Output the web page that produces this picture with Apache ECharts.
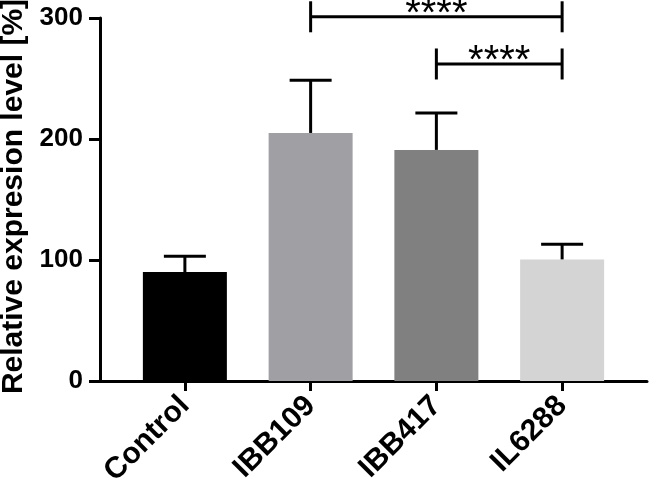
<!DOCTYPE html>
<html><head><meta charset="utf-8">
<script src="https://cdn.jsdelivr.net/npm/echarts@6/dist/echarts.min.js"></script>
<style>html,body{margin:0;padding:0;background:#fff}#c{width:650px;height:481px}</style>
</head><body><div id="c"></div>
<script>
const categories = ['Control', 'IBB109', 'IBB417', 'IL6288'];
const means = [90, 205, 191, 100.5];
const errors = [13, 43.5, 30.5, 12.5];
const barColors = ['#000000', '#a0a0a4', '#808080', '#d4d4d4'];
const yTicks = [0, 100, 200, 300];
const sigPairs = [[1, 3, 301], [2, 3, 262]];
const sigLabels = ['****', '****'];
const FONT = 'Liberation Sans, Arial, Helvetica, sans-serif';
const catPositions = categories.map((c, i) => i);

const chart = echarts.init(document.getElementById('c'), null, {renderer: 'canvas'});

const option = {
  animation: false,
  backgroundColor: '#fff',
  grid: {left: 100, right: 3, top: 18, bottom: 100, containLabel: false, outerBoundsMode: 'none'},
  xAxis: {
    type: 'value', min: -0.675, max: 3.675,
    splitLine: {show: false},
    axisLine: {show: true, onZero: false, lineStyle: {color: '#000', width: 3}},
    axisTick: {show: true, customValues: catPositions, length: 10, lineStyle: {color: '#000', width: 3}},
    axisLabel: {
      show: true, customValues: catPositions, rotate: 45, margin: 20,
      formatter: v => categories[Math.round(v)],
      color: '#000', fontSize: 30, fontWeight: 'bold', fontFamily: FONT
    }
  },
  yAxis: {
    type: 'value', min: yTicks[0], max: yTicks[yTicks.length - 1], interval: 100,
    name: 'Relative expresion level [%]', nameLocation: 'middle', nameRotate: 90, nameGap: 63,
    nameTextStyle: {color: '#000', fontSize: 30, fontWeight: 'bold', fontFamily: FONT, padding: [0, 0, 0, 6]},
    splitLine: {show: false},
    axisLine: {show: true, onZero: false, lineStyle: {color: '#000', width: 3}},
    axisTick: {show: true, length: 11, lineStyle: {color: '#000', width: 3}},
    axisLabel: {margin: 17, color: '#000', fontSize: 26, fontWeight: 'bold', fontFamily: FONT}
  },
  series: [
    {
      type: 'bar', barWidth: 84, z: 2,
      data: categories.map((c, i) => ({value: [i, means[i]], itemStyle: {color: barColors[i]}}))
    },
    {
      type: 'custom', z: 3, clip: false,
      data: categories.map((c, i) => [i, means[i], means[i] + errors[i]]),
      renderItem: function (params, api) {
        const x = api.value(0), m = api.value(1), hi = api.value(2);
        const p0 = api.coord([x, m]), p1 = api.coord([x, hi]);
        const half = 21;
        return {type: 'group', children: [
          {type: 'line', shape: {x1: p0[0], y1: p0[1], x2: p1[0], y2: p1[1]}, style: {stroke: '#000', lineWidth: 3}},
          {type: 'line', shape: {x1: p1[0] - half, y1: p1[1], x2: p1[0] + half, y2: p1[1]}, style: {stroke: '#000', lineWidth: 3}}
        ]};
      }
    },
    {
      type: 'custom', z: 4, clip: false,
      data: sigPairs.map(p => [p[0], p[1], p[2]]),
      renderItem: function (params, api) {
        const a = api.coord([api.value(0), api.value(2)]);
        const b = api.coord([api.value(1), api.value(2)]);
        const h = 15.5;
        const txt = sigLabels[params.dataIndex];
        return {type: 'group', children: [
          {type: 'line', shape: {x1: a[0], y1: a[1], x2: b[0], y2: b[1]}, style: {stroke: '#000', lineWidth: 3}},
          {type: 'line', shape: {x1: a[0], y1: a[1] - h, x2: a[0], y2: a[1] + h}, style: {stroke: '#000', lineWidth: 3}},
          {type: 'line', shape: {x1: b[0], y1: b[1] - h, x2: b[0], y2: b[1] + h}, style: {stroke: '#000', lineWidth: 3}},
          {type: 'text', x: (a[0] + b[0]) / 2, y: a[1] - 2,
            style: {text: txt, fill: '#000', font: '40px ' + FONT, align: 'center', verticalAlign: 'middle'}}
        ]};
      }
    }
  ]
};
chart.setOption(option);
</script>
</body></html>
